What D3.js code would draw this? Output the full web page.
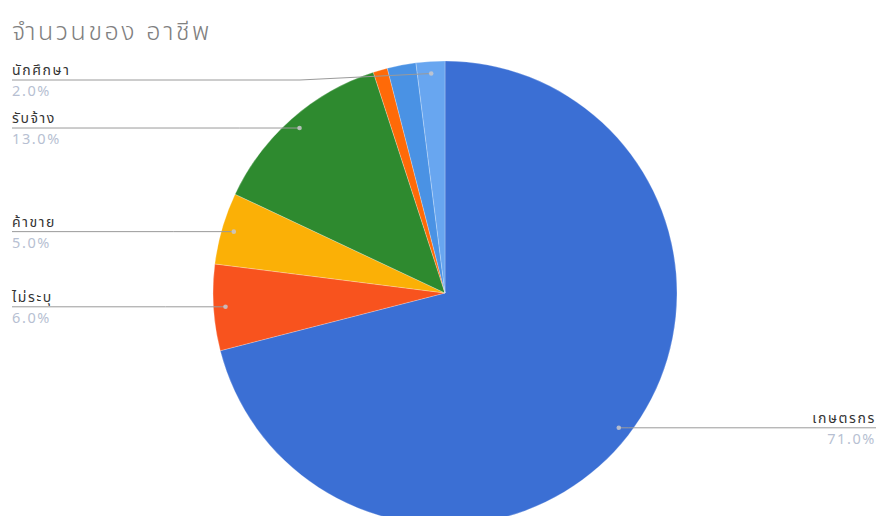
<!DOCTYPE html>
<html>
<head>
<meta charset="utf-8">
<script src="https://cdn.jsdelivr.net/npm/d3@7"></script>
<style>
  html, body { margin: 0; padding: 0; background: #fff; }
  svg { display: block; font-family: "Noto Sans Thai", "Noto Sans", "DejaVu Sans", sans-serif; }
</style>
</head>
<body>
<svg id="chart" width="879" height="516"></svg>
<script>
// Occupation counts (percent), in drawing order clockwise from 12 o'clock.
// Empty names are slices drawn without a callout label.
const categories = ["เกษตรกร", "ไม่ระบุ", "ค้าขาย", "รับจ้าง", "", "", "นักศึกษา"];
const values = [71, 6, 5, 13, 1, 2, 2];
const colors = ["#3b6fd4", "#f8531e", "#fbb006", "#2e8a2f", "#ff6a08", "#4a92e4", "#68a6f0"];
const percentLabels = ["71.0%", "6.0%", "5.0%", "13.0%", "", "", "2.0%"];
const titleText = "จำนวนของ อาชีพ";

const svg = d3.select("#chart");
const W = 879;
const cx = 445, cy = 293, R = 232;

svg.append("text")
  .attr("x", 12).attr("y", 40)
  .attr("font-size", 25)
  .attr("font-weight", 300)
  .attr("letter-spacing", 2.6)
  .attr("fill", "#808080")
  .text(titleText);

const data = categories.map((c, i) => ({ name: c, value: values[i], color: colors[i], pct: percentLabels[i] }));

const pie = d3.pie().value(d => d.value).sort(null);
const arcs = pie(data);
const arc = d3.arc().innerRadius(0).outerRadius(R);

const g = svg.append("g").attr("transform", `translate(${cx},${cy})`);
g.selectAll("path")
  .data(arcs)
  .join("path")
  .attr("d", arc)
  .attr("fill", d => d.data.color)
  .attr("stroke", "rgba(255,255,255,0.35)")
  .attr("stroke-width", 0.7);

// Callouts: a dot inside each labelled slice, a leader line to the margin,
// the name above the line and the percentage below it.
const dotR = R * 0.948;
const labelled = arcs.filter(d => d.data.name !== "");
const callouts = svg.append("g");

labelled.forEach(d => {
  const mid = (d.startAngle + d.endAngle) / 2;
  const px = cx + dotR * Math.sin(mid);
  const py = cy - dotR * Math.cos(mid);
  const right = Math.sin(mid) > 0.3;
  // the smallest top slice's leader is lifted off the title
  const ly = d.data.name === "นักศึกษา" ? 80 : py;
  const xEnd = right ? W - 3 : 12;

  callouts.append("path")
    .attr("d", d3.line()([[xEnd, ly], [right ? px + 10 : Math.min(px - 60, 300), ly], [px, py]]))
    .attr("fill", "none")
    .attr("stroke", "#9a9a9a")
    .attr("stroke-width", 1);

  callouts.append("circle")
    .attr("cx", px).attr("cy", py).attr("r", 2.3)
    .attr("fill", "#c8c8cc")
    .attr("opacity", 0.85);

  callouts.append("text")
    .attr("x", xEnd).attr("y", ly - 5)
    .attr("text-anchor", right ? "end" : "start")
    .attr("font-size", 14)
    .attr("letter-spacing", 1.6)
    .attr("fill", "#333")
    .text(d.data.name);

  callouts.append("text")
    .attr("x", xEnd).attr("y", ly + 16)
    .attr("text-anchor", right ? "end" : "start")
    .attr("font-size", 14.5)
    .attr("letter-spacing", 1.6)
    .attr("fill", "#b7bfd2")
    .text(d.data.pct);
});
</script>
</body>
</html>
